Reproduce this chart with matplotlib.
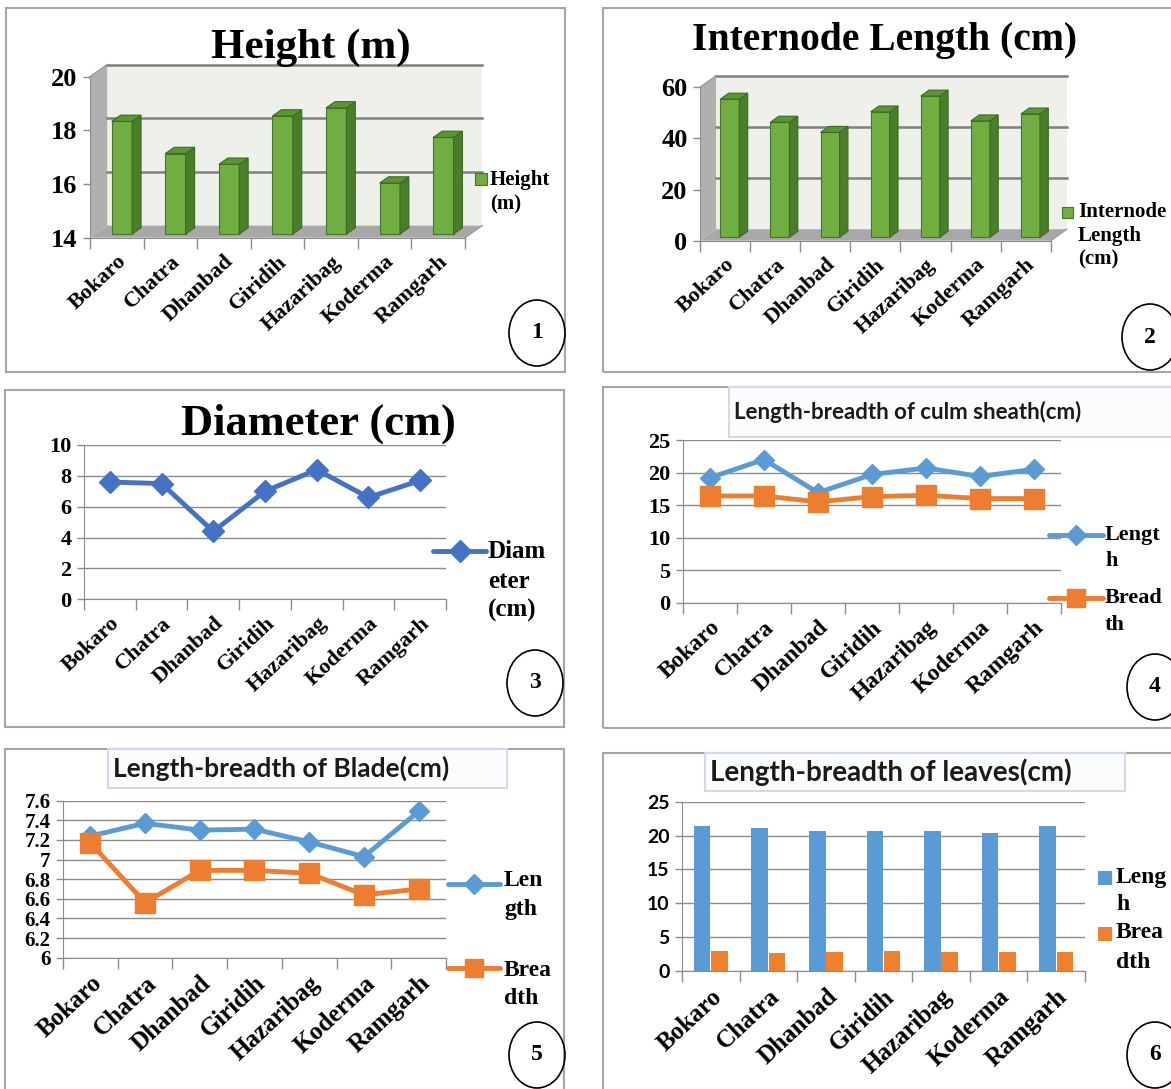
import numpy as np
import matplotlib
matplotlib.use('Agg')
import matplotlib.pyplot as plt
from matplotlib.patches import Rectangle, Ellipse, Polygon
from matplotlib.lines import Line2D
from matplotlib.ticker import FixedLocator

W, H = 1171, 1089
SERIF = 'Liberation Serif'
SANS = 'Lato'
GRID = '#8c8c8c'

districts = ['Bokaro', 'Chatra', 'Dhanbad', 'Giridih', 'Hazaribag', 'Koderma', 'Ramgarh']

height_m = [18.2, 17.0, 16.6, 18.4, 18.7, 15.9, 17.6]
internode_cm = [54.0, 45.0, 41.0, 49.0, 55.2, 45.5, 48.2]
diameter_cm = [7.6, 7.5, 4.4, 7.0, 8.4, 6.6, 7.7]
sheath_length = [19.2, 22.0, 16.9, 19.7, 20.7, 19.4, 20.5]
sheath_breadth = [16.4, 16.4, 15.5, 16.3, 16.5, 16.0, 16.0]
blade_length = [7.24, 7.37, 7.30, 7.31, 7.18, 7.03, 7.49]
blade_breadth = [7.17, 6.56, 6.89, 6.89, 6.86, 6.64, 6.70]
leaf_length = [21.4, 21.1, 20.6, 20.7, 20.6, 20.4, 21.4]
leaf_breadth = [3.0, 2.6, 2.85, 2.95, 2.75, 2.75, 2.8]

fig = plt.figure(figsize=(W / 100, H / 100), dpi=100)


def fx(x):
    return x / W


def fy(y):
    return 1 - y / H


def px_axes(x0, y0, x1, y1):
    return fig.add_axes([fx(x0), fy(y1), (x1 - x0) / W, (y1 - y0) / H])


def panel_frame(x0, y0, x1, y1):
    fig.add_artist(Rectangle((fx(x0), fy(y1)), (x1 - x0) / W, (y1 - y0) / H,
                             transform=fig.transFigure, fill=False, ec='#a6a6a6', lw=1.5))


def badge(cx, cy, num):
    fig.add_artist(Ellipse((fx(cx), fy(cy)), 56 / W, 66 / H, transform=fig.transFigure,
                           fill=False, ec='black', lw=1.2))
    fig.text(fx(cx), fy(cy), num, ha='center', va='center', fontsize=17,
             fontweight='bold', family=SERIF)


def title_box(x0, y0, x1, y1, text, size, weight='bold'):
    fig.add_artist(Rectangle((fx(x0), fy(y1)), (x1 - x0) / W, (y1 - y0) / H,
                             transform=fig.transFigure, fc='#fbfcfe', ec='#d3d9ea', lw=1.5))
    fig.text(fx(x0 + 5), fy((y0 + y1) / 2), text, ha='left', va='center', fontsize=size,
             fontweight=weight, family=SANS, color='#1a1a1a')


def legend_text(x, ys, lines, size):
    for y, s in zip(ys, lines):
        fig.text(fx(x), fy(y), s, ha='left', va='center', fontsize=size,
                 fontweight='bold', family=SERIF)


def legend_square(x, y, side, color, edge):
    fig.add_artist(Rectangle((fx(x), fy(y + side / 2)), side / W, side / H,
                             transform=fig.transFigure, fc=color, ec=edge, lw=0.8))


def legend_line(x0, x1, y, color, marker, ms):
    fig.add_artist(Line2D([fx(x0), fx(x1)], [fy(y), fy(y)], transform=fig.transFigure,
                          color=color, lw=3.5, solid_capstyle='round'))
    fig.add_artist(Line2D([fx((x0 + x1) / 2)], [fy(y)], transform=fig.transFigure,
                          color=color, marker=marker, ms=ms, ls='none'))


def category_axis(ax, label_size, rot=43, pad=10):
    n = len(districts)
    ax.set_xlim(-0.5, n - 0.5)
    ax.set_xticks(np.arange(n))
    ax.set_xticklabels(districts, rotation=rot, ha='right', va='top', rotation_mode='anchor',
                       fontsize=label_size, fontweight='bold', family=SERIF)
    ax.xaxis.set_minor_locator(FixedLocator(np.arange(n + 1) - 0.5))
    ax.tick_params(axis='x', which='major', length=0, pad=pad)
    ax.tick_params(axis='x', which='minor', length=8, color=GRID, width=1)
    ax.tick_params(axis='y', length=5, color=GRID, width=1, pad=4)
    for side in ('top', 'right'):
        ax.spines[side].set_visible(False)
    for side in ('left', 'bottom'):
        ax.spines[side].set_color(GRID)


def value_axis(ax, ticks, size, family=SERIF):
    ax.set_ylim(ticks[0], ticks[-1])
    ax.set_yticks(ticks)
    ax.set_yticklabels([f'{t:g}' for t in ticks], fontsize=size, fontweight='bold', family=family)


def bars_3d(ax, values, ticks):
    # Excel-style 3-D columns: side wall, floor and back wall behind the bars
    n = len(values)
    ymin, ymax = ticks[0], ticks[-1]
    left, right = -0.5, n - 0.5
    dx, dy = 0.32, 0.075 * (ymax - ymin)
    ax.patch.set_visible(False)
    wall = dict(closed=True, clip_on=False, lw=0)
    ax.add_patch(Polygon([(left + dx, ymin + dy), (right + dx, ymin + dy),
                          (right + dx, ymax + dy), (left + dx, ymax + dy)],
                         fc='#edf1ea', zorder=0, **wall))
    ax.add_patch(Polygon([(left, ymin), (left + dx, ymin + dy),
                          (left + dx, ymax + dy), (left, ymax)],
                         fc='#b0b0b0', zorder=0.5, **wall))
    ax.add_patch(Polygon([(left, ymin), (right, ymin),
                          (right + dx, ymin + dy), (left + dx, ymin + dy)],
                         fc='#a8a8a8', zorder=0.5, **wall))
    for t in ticks[1:]:
        ax.plot([left + dx, right + dx], [t + dy, t + dy], color='#808080', lw=1.8,
                zorder=1, clip_on=False)
    ax.plot([left, left + dx], [ymax, ymax + dy], color='#9a9a9a', lw=1, clip_on=False)
    ax.plot([right, right + dx], [ymin, ymin + dy], color='#9a9a9a', lw=1, clip_on=False)

    w, d0, bd = 0.38, 0.3, 0.52
    x = np.arange(n) + d0 * dx
    base = ymin + d0 * dy
    vals = np.asarray(values)
    ax.bar(x, vals - ymin, bottom=base, width=w, color='#70ae42', ec='#44752a', lw=0.8,
           zorder=3)
    for xi, v in zip(x, vals):
        top = v + d0 * dy
        xl, xr = xi - w / 2, xi + w / 2
        ax.add_patch(Polygon([(xr, base), (xr + bd * dx, base + bd * dy),
                              (xr + bd * dx, top + bd * dy), (xr, top)],
                             fc='#4a7e2b', ec='#3d6a22', lw=0.8, zorder=3, clip_on=False))
        ax.add_patch(Polygon([(xl, top), (xr, top), (xr + bd * dx, top + bd * dy),
                              (xl + bd * dx, top + bd * dy)],
                             fc='#5a9634', ec='#3d6a22', lw=0.8, zorder=3, clip_on=False))


# panel frames
panel_frame(6, 8, 565, 372)
panel_frame(603, 8, 1180, 372)
panel_frame(5, 390, 564, 727)
panel_frame(603, 387, 1180, 728)
panel_frame(5, 749, 564, 1095)
panel_frame(603, 753, 1180, 1095)

# 1: height
ax1 = px_axes(90, 76.7, 465, 237.7)
ticks1 = [14, 16, 18, 20]
value_axis(ax1, ticks1, 19)
bars_3d(ax1, height_m, ticks1)
category_axis(ax1, 16)
fig.text(fx(311), fy(58), 'Height (m)', ha='center', va='baseline', fontsize=31,
         fontweight='bold', family=SERIF)
legend_square(475, 179, 12, '#70ae42', '#44752a')
legend_text(490, [180, 204], ['Height', '(m)'], 15)
badge(537, 333, '1')

# 2: internode length
ax2 = px_axes(700, 87.3, 1050.7, 240.7)
ticks2 = [0, 20, 40, 60]
value_axis(ax2, ticks2, 19)
bars_3d(ax2, internode_cm, ticks2)
category_axis(ax2, 16)
fig.text(fx(884), fy(50), 'Internode Length (cm)', ha='center', va='baseline', fontsize=28.5,
         fontweight='bold', family=SERIF)
legend_square(1062, 212, 11, '#70ae42', '#44752a')
legend_text(1078, [212, 236, 259], ['Internode', 'Length', '(cm)'], 15)
badge(1150, 337, '2')

# 3: diameter
ax3 = px_axes(84, 445, 446, 599.3)
ticks3 = [0, 2, 4, 6, 8, 10]
value_axis(ax3, ticks3, 16)
ax3.grid(axis='y', color=GRID, lw=1)
ax3.set_axisbelow(True)
ax3.plot(np.arange(len(districts)), diameter_cm, color='#4472c4', lw=3.5, marker='D', ms=11)
category_axis(ax3, 16)
fig.text(fx(318), fy(435), 'Diameter (cm)', ha='center', va='baseline', fontsize=32,
         fontweight='bold', family=SERIF)
legend_line(433, 486, 551, '#4472c4', 'D', 11)
legend_text(488, [551, 581, 610], ['Diam', 'eter', '(cm)'], 18)
badge(535, 683, '3')

# 4: culm sheath
ax4 = px_axes(683, 440, 1061, 602.7)
ticks4 = [0, 5, 10, 15, 20, 25]
value_axis(ax4, ticks4, 16)
ax4.grid(axis='y', color=GRID, lw=1)
ax4.set_axisbelow(True)
ax4.plot(np.arange(len(districts)), sheath_length, color='#5b9bd5', lw=3.5, marker='D', ms=10)
ax4.plot(np.arange(len(districts)), sheath_breadth, color='#ed7d31', lw=3.5, marker='s', ms=14)
category_axis(ax4, 17)
title_box(729, 387, 1185, 437, 'Length-breadth of culm sheath(cm)', 16)
legend_line(1049, 1103, 535, '#5b9bd5', 'D', 10)
legend_line(1049, 1103, 598, '#ed7d31', 's', 13)
legend_text(1105, [535, 561, 598, 625], ['Lengt', 'h', 'Bread', 'th'], 16)
badge(1155, 687, '4')

# 5: blade
ax5 = px_axes(63, 800.7, 446, 957.7)
ticks5 = [6, 6.2, 6.4, 6.6, 6.8, 7, 7.2, 7.4, 7.6]
value_axis(ax5, ticks5, 15)
ax5.grid(axis='y', color=GRID, lw=1)
ax5.set_axisbelow(True)
ax5.plot(np.arange(len(districts)), blade_length, color='#5b9bd5', lw=3.5, marker='D', ms=10)
ax5.plot(np.arange(len(districts)), blade_breadth, color='#ed7d31', lw=3.5, marker='s', ms=14)
category_axis(ax5, 18)
title_box(108, 749, 507, 788, 'Length-breadth of Blade(cm)', 19)
legend_line(448, 500, 884, '#5b9bd5', 'D', 10)
legend_line(448, 500, 968, '#ed7d31', 's', 13)
legend_text(504, [880, 910, 970, 998], ['Len', 'gth', 'Brea', 'dth'], 17)
badge(537, 1055, '5')

# 6: leaves
ax6 = px_axes(682, 801.7, 1085, 971)
ticks6 = [0, 5, 10, 15, 20, 25]
value_axis(ax6, ticks6, 14, family=SANS)
ax6.grid(axis='y', color=GRID, lw=1)
ax6.set_axisbelow(True)
pos = np.arange(len(districts))
ax6.bar(pos - 0.15, leaf_length, width=0.29, color='#5b9bd5', zorder=2)
ax6.bar(pos + 0.15, leaf_breadth, width=0.29, color='#f07f2e', zorder=2)
category_axis(ax6, 18)
title_box(705, 753, 1125, 791, 'Length-breadth of leaves(cm)', 20)
legend_square(1098, 877, 13, '#5b9bd5', '#5b9bd5')
legend_square(1098, 933, 13, '#f07f2e', '#f07f2e')
legend_text(1116, [877, 905, 933, 962], ['Leng', 'h', 'Brea', 'dth'], 17)
badge(1155, 1055, '6')

fig.savefig('out.png', dpi=100)
